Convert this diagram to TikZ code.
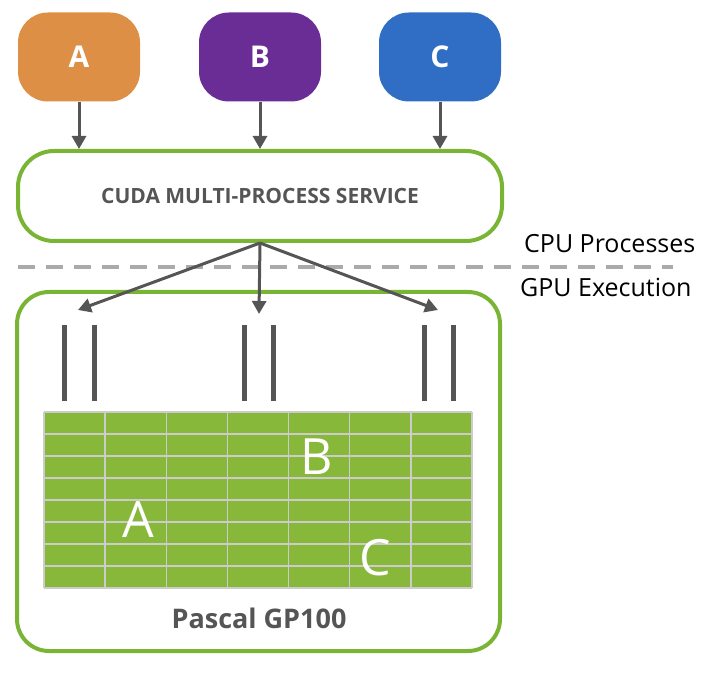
\documentclass[tikz,border=0pt]{standalone}
\usepackage{fontspec}
\setmainfont{Open Sans}
\usetikzlibrary{arrows.meta}
\definecolor{cA}{HTML}{DD8F45}
\definecolor{cB}{HTML}{6A2D96}
\definecolor{cC}{HTML}{2F6EC4}
\definecolor{nvgreen}{HTML}{7AB434}
\definecolor{gridgreen}{HTML}{88B83A}
\definecolor{gridline}{HTML}{CCCCCC}
\definecolor{darkgray}{HTML}{555555}
\definecolor{dashgray}{HTML}{AAAAAA}
\tikzset{
  procbox/.style={minimum width=122pt, minimum height=89pt, rounded corners=30pt,
    text=white, font=\fontsize{30}{30}\selectfont\bfseries, inner sep=0pt},
  greenbox/.style={draw=nvgreen, line width=4pt, fill=white, inner sep=0pt},
  arr/.style={draw=darkgray, line width=3pt, -{Triangle[length=13pt,width=14pt]}},
  bar/.style={draw=darkgray, line width=5pt},
  gline/.style={draw=gridline, line width=1.5pt},
  sidelabel/.style={anchor=base west, inner sep=0pt, font=\fontsize{25}{25}\selectfont},
  gridletter/.style={text=white, font=\fontsize{50}{50}\selectfont, inner sep=0pt}
}
\begin{document}
\begin{tikzpicture}[x=1pt,y=-1pt]
\useasboundingbox (0,0) rectangle (716,690);
% process boxes
\node[procbox, fill=cA] (pA) at (79,57) {A};
\node[procbox, fill=cB] (pB) at (260,57) {B};
\node[procbox, fill=cC] (pC) at (440,57) {C};
% MPS box
\node[greenbox, minimum width=484pt, minimum height=90pt, rounded corners=36pt,
  text=darkgray, font=\fontsize{21}{21}\selectfont\bfseries] (mps) at (260,196) {CUDA MULTI-PROCESS SERVICE};
% arrows into MPS
\draw[arr] (pA.south) -- (pA.south |- mps.north);
\draw[arr] (pB.south) -- (pB.south |- mps.north);
\draw[arr] (pC.south) -- (pC.south |- mps.north);
% dashed separator
\coordinate (dl) at (18,267);
\coordinate (dr) at (673,267);
\draw[dashgray, line width=4pt, dash pattern=on 17pt off 11pt] (dl) -- (dr);
\node[sidelabel] (cpu) at (524,253) {CPU Processes};
\node[sidelabel] (gpu) at (520,297) {GPU Execution};
% GPU box
\node[greenbox, minimum width=483pt, minimum height=359pt, rounded corners=32pt] (gpubox) at (258.5,471.5) {};
% fan-out arrows
\coordinate (tA) at (78,310);
\coordinate (tB) at (259,314);
\coordinate (tC) at (438,310);
\draw[arr] (mps.south) -- (tA);
\draw[arr] (mps.south) -- (tB);
\draw[arr] (mps.south) -- (tC);
% bars
\foreach \x in {64,94,244,273,424,453} {
  \draw[bar] (\x,325) -- (\x,401);
}
% grid
\fill[gridgreen] (44,412) rectangle (472,588);
\foreach \i in {0,...,7} {
  \draw[gline] ({44+\i*61.143},412) -- ({44+\i*61.143},588);
}
\foreach \j in {0,...,8} {
  \draw[gline] (44,{412+\j*22}) -- (472,{412+\j*22});
}
\node[gridletter] (gA) at (138,520) {A};
\node[gridletter] (gB) at (317,457) {B};
\node[gridletter] (gC) at (375,558) {C};
\node[text=darkgray, font=\fontsize{27}{27}\selectfont\bfseries, inner sep=0pt] (pascal) at (259,618) {Pascal GP100};
\end{tikzpicture}
\end{document}
